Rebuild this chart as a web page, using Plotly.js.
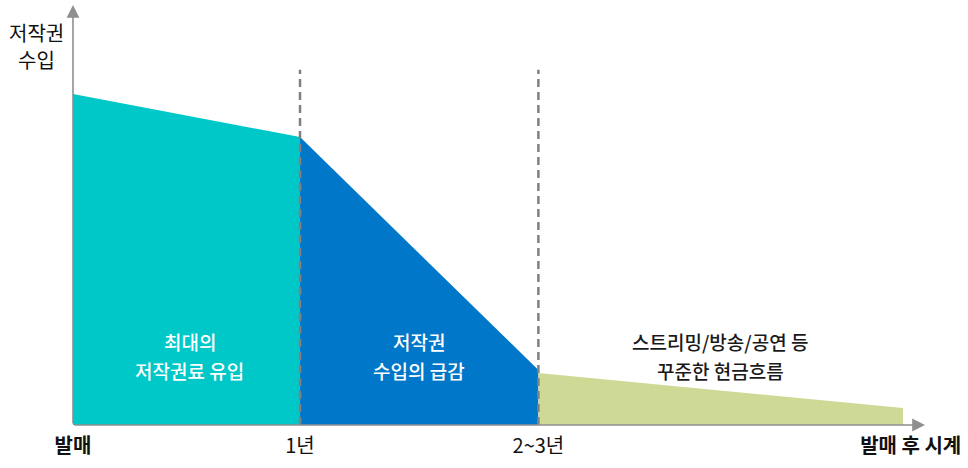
<!DOCTYPE html>
<html>
<head>
<meta charset="utf-8">
<script src="https://cdn.plot.ly/plotly-3.0.1.min.js"></script>
<style>html,body{margin:0;padding:0;background:#fff;}#chart{width:968px;height:468px;}</style>
</head>
<body>
<div id="chart"></div>
<script>
// Phase boundaries (x in "time units": 발매=0, 1년=1, 2~3년≈2.05)
const phaseX = [0, 1, 2.05, 3.656];
// Revenue index at the boundaries (launch = 100)
const tealY = [100, 87];
const blueY = [87, 16.6];
const greenY = [15.7, 5.1];

const tickVals = [0, 1, 2.05, 3.69];
const tickText = ['<b>발매</b>', '1년', '2~3년', '<b>발매 후 시계</b>'];

const yTitle = ['저작권', '수입'];
const tealLabel = ['최대의', '저작권료 유입'];
const blueLabel = ['저작권', '수입의 급감'];
const greenLabel = ['스트리밍/방송/공연 등', '꾸준한 현금흐름'];
const labelX = [0.515, 1.524, 2.85];
const labelY = [25.1, 16.6];

const xMax = 3.753, yMax = 126.9, dashTop = 107.3;
const FONT = '"Noto Sans CJK KR", "Noto Sans", sans-serif';

const traces = [
  {x: phaseX.slice(0,2), y: tealY, type:'scatter', mode:'lines', fill:'tozeroy',
   fillcolor:'#00C8C8', line:{width:0, color:'#00C8C8'}, hoverinfo:'skip'},
  {x: phaseX.slice(1,3), y: blueY, type:'scatter', mode:'lines', fill:'tozeroy',
   fillcolor:'#0077C8', line:{width:0, color:'#0077C8'}, hoverinfo:'skip'},
  {x: phaseX.slice(2,4), y: greenY, type:'scatter', mode:'lines', fill:'tozeroy',
   fillcolor:'#CDD995', line:{width:0, color:'#CDD995'}, hoverinfo:'skip'}
];

const annotations = [];
// axes arrows
annotations.push({x:xMax, y:0, ax:0, ay:0, axref:'x', ayref:'y', xref:'x', yref:'y',
  showarrow:true, arrowhead:2, arrowsize:1.6, arrowwidth:1.6, arrowcolor:'#8f8f8f', text:''});
annotations.push({x:0, y:yMax, ax:0, ay:0, axref:'x', ayref:'y', xref:'x', yref:'y',
  showarrow:true, arrowhead:2, arrowsize:1.6, arrowwidth:1.6, arrowcolor:'#8f8f8f', text:''});
// y title
yTitle.forEach((t,i)=>annotations.push({xref:'paper', yref:'paper', x:-0.043, y:(425-33-27*i)/420,
  xanchor:'center', yanchor:'middle', showarrow:false, text:t,
  font:{family:FONT, size:20, color:'#111'}}));
function addLabel(arr, xi, color){
  arr.forEach((t,i)=>annotations.push({x:labelX[xi], y:labelY[i], xref:'x', yref:'y', showarrow:false,
    text:t, xanchor:'center', yanchor:'middle', font:{family:FONT, size:19, color:color, weight:500}}));
}
addLabel(tealLabel, 0, '#ffffff');
addLabel(blueLabel, 1, '#ffffff');
addLabel(greenLabel, 2, '#1a1a1a');

const shapes = [1, 2].map(i=>({type:'line', xref:'x', yref:'y', x0:phaseX[i], x1:phaseX[i], y0:0, y1:dashTop,
  line:{color:'#808080', width:2.5, dash:'8px,5px'}, layer:'above'}));

const layout = {
  width:968, height:468,
  margin:{l:73, r:43, t:5, b:43},
  paper_bgcolor:'#fff', plot_bgcolor:'#fff',
  showlegend:false,
  xaxis:{range:[0,xMax], showgrid:false, zeroline:false, showline:false, ticks:'',
    tickvals:tickVals, ticktext:tickText, ticklabelstandoff:7,
    tickfont:{family:FONT, size:20, color:'#111'}, fixedrange:true},
  yaxis:{range:[0,yMax], showgrid:false, zeroline:false, showline:false, showticklabels:false, ticks:'', fixedrange:true},
  shapes: shapes,
  annotations: annotations
};
Plotly.newPlot('chart', traces, layout, {displayModeBar:false, staticPlot:true});
</script>
</body>
</html>
